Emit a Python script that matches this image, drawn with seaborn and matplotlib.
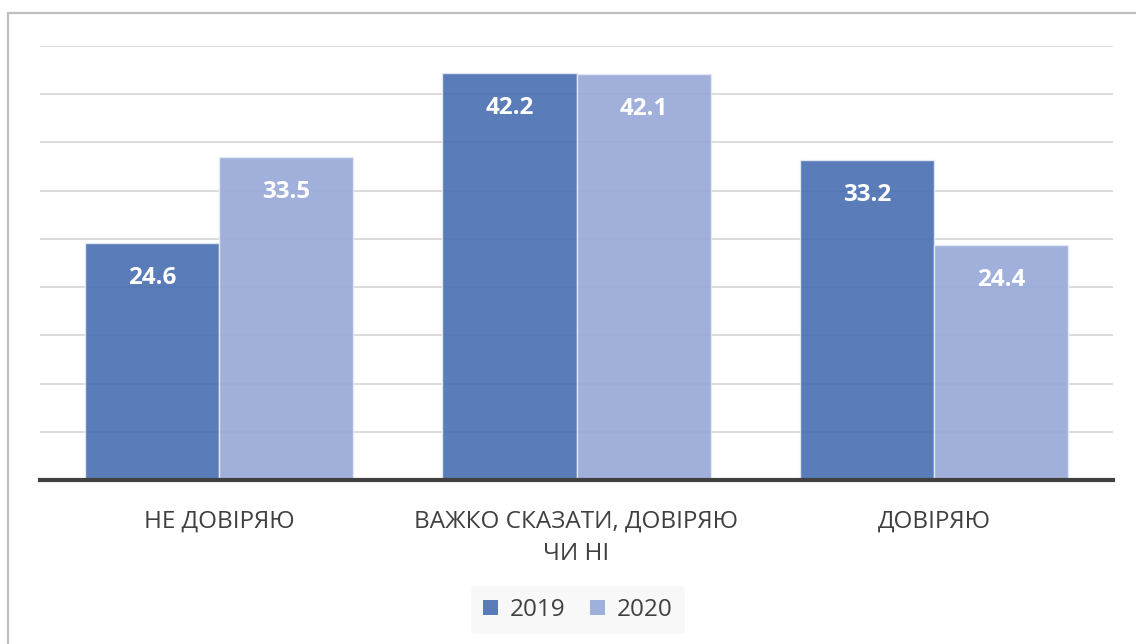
import numpy as np
import pandas as pd
import matplotlib
matplotlib.use('Agg')
import matplotlib.pyplot as plt
import matplotlib.patches as mpatches
import seaborn as sns

# дані
categories = ['НЕ ДОВІРЯЮ', 'ВАЖКО СКАЗАТИ, ДОВІРЯЮ\nЧИ НІ', 'ДОВІРЯЮ']
years = ['2019', '2020']
values_2019 = [24.6, 42.2, 33.2]
values_2020 = [33.5, 42.1, 24.4]

df = pd.DataFrame({
    'category': categories * 2,
    'year': [years[0]] * 3 + [years[1]] * 3,
    'value': values_2019 + values_2020,
})

sns.set_style('white')
plt.rcParams['font.family'] = ['Open Sans', 'DejaVu Sans']

fig = plt.figure(figsize=(11.36, 6.44), dpi=100)
ax = fig.add_axes([40 / 1136, 1 - 480 / 644, (1113 - 40) / 1136, (480 - 46) / 644])

palette = {'2019': '#486EB2', '2020': '#96A8D7'}
sns.barplot(data=df, x='category', y='value', hue='year', palette=palette,
            width=0.75, alpha=0.9, saturation=1, edgecolor='#e6ebf5', linewidth=1,
            ax=ax, legend=False, zorder=3)

for cont in ax.containers:
    ax.bar_label(cont, fmt='%.1f', padding=-34, color='white',
                 fontsize=17.5, fontweight='bold')

ax.set_ylim(0, 45)
ax.set_xlim(-0.5, 2.5)
ax.set_yticks(np.arange(5, 46, 5))
ax.yaxis.grid(True, color='#d9d9d9', linewidth=1.3, zorder=0)
ax.set_axisbelow(True)
ax.set_yticklabels([])
ax.tick_params(axis='both', length=0)
ax.tick_params(axis='x', pad=21, labelsize=17.5, labelcolor='#404040')
for lbl in ax.get_xticklabels():
    lbl.set_linespacing(1.5)
    lbl.set_verticalalignment('top')
ax.set_xlabel('')
ax.set_ylabel('')
for s in ['top', 'right', 'left']:
    ax.spines[s].set_visible(False)
ax.spines['bottom'].set_linewidth(3)
ax.spines['bottom'].set_color('#404040')
ax.spines['bottom'].set_zorder(5)

# легенда
handles = [mpatches.Patch(facecolor=palette[y], alpha=0.9, edgecolor='none') for y in years]
leg = fig.legend(handles, years, loc='center', ncol=2,
                 bbox_to_anchor=(578 / 1136, 1 - 610 / 644),
                 frameon=True, facecolor='#f8f8f8', edgecolor='none', framealpha=1,
                 fontsize=17.5, handlelength=0.6, handleheight=0.6,
                 handletextpad=0.5, columnspacing=1.0, borderpad=0.5)
for t in leg.get_texts():
    t.set_color('#404040')

# рамка
fig.patches.append(mpatches.Rectangle((8 / 1136, -0.1), 1.2, 1 - 13 / 644 + 0.1,
                                      transform=fig.transFigure, fill=False,
                                      edgecolor='#bfbfbf', linewidth=1.6))

fig.savefig('out.png', dpi=100)
